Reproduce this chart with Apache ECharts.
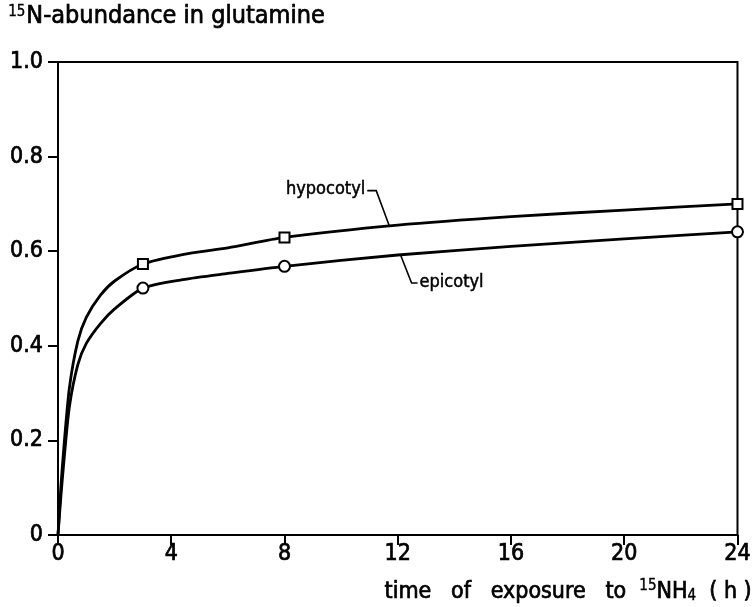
<!DOCTYPE html>
<html>
<head>
<meta charset="utf-8">
<script src="https://cdn.jsdelivr.net/npm/echarts@6/dist/echarts.min.js"></script>
<style>
html,body{margin:0;padding:0;background:#fff;}
#chart{width:754px;height:607px;}
</style>
</head>
<body>
<div id="chart"></div>
<script>
// ---- data ----
const curveHours = [0, 0.1, 0.2, 0.4, 0.7, 1.0, 1.5, 2.0, 3, 4.4, 6, 8, 12, 16, 20, 24];
const hypocotylCurve = [0, 0.10, 0.18, 0.31, 0.41, 0.46, 0.507, 0.537, 0.573, 0.593, 0.607, 0.629, 0.655, 0.673, 0.687, 0.700];
const epicotylCurve  = [0, 0.08, 0.15, 0.27, 0.36, 0.405, 0.447, 0.478, 0.522, 0.540, 0.553, 0.568, 0.592, 0.610, 0.626, 0.641];
const measuredHours = [3, 8, 24];
const hypocotylMeasured = [0.573, 0.629, 0.700];
const epicotylMeasured  = [0.522, 0.568, 0.641];
const xTicks = [0, 4, 8, 12, 16, 20, 24];
const yTickLabels = {0: '0', 0.2: '0.2', 0.4: '0.4', 0.6: '0.6', 0.8: '0.8', 1: '1.0'};
const seriesNames = ['hypocotyl', 'epicotyl'];
const yTitle = 'N-abundance in glutamine';
const xTitle = 'time   of   exposure   to  ';

const FONT = '"DejaVu Sans Condensed", "DejaVu Sans", sans-serif';
const zip = (xs, ys) => xs.map((x, i) => [x, ys[i]]);

const chart = echarts.init(document.getElementById('chart'));
const axisCommon = {
  axisLine: {show: true, lineStyle: {color: '#000', width: 2}},
  axisTick: {show: true, inside: false, length: 10, lineStyle: {color: '#000', width: 2}},
  splitLine: {show: false},
  axisLabel: {color: '#000', fontSize: 23, fontFamily: FONT, textBorderColor: '#000', textBorderWidth: 0.7}
};
const option = {
  backgroundColor: '#fff',
  animation: false,
  grid: {left: 58, right: 15, top: 62, bottom: 72, show: true, borderColor: '#000', borderWidth: 2, backgroundColor: 'transparent'},
  xAxis: Object.assign({}, axisCommon, {
    type: 'value', min: 0, max: 24, interval: 4,
    axisLabel: Object.assign({}, axisCommon.axisLabel, {margin: 8, formatter: v => xTicks.includes(v) ? String(v) : ''})
  }),
  yAxis: Object.assign({}, axisCommon, {
    type: 'value', min: 0, max: 1, interval: 0.2,
    axisLabel: Object.assign({}, axisCommon.axisLabel, {margin: 15, formatter: v => yTickLabels[Math.round(v * 10) / 10]})
  }),
  series: [
    {name: seriesNames[0] + ' curve', type: 'line', data: zip(curveHours, hypocotylCurve), smooth: 0.25, symbol: 'none', lineStyle: {color: '#000', width: 2.8}, z: 2},
    {name: seriesNames[1] + ' curve', type: 'line', data: zip(curveHours, epicotylCurve), smooth: 0.25, symbol: 'none', lineStyle: {color: '#000', width: 2.8}, z: 2},
    {name: seriesNames[0], type: 'scatter', data: zip(measuredHours, hypocotylMeasured), symbol: 'rect', symbolSize: 10, itemStyle: {color: '#fff', opacity: 1, borderColor: '#000', borderWidth: 2}, z: 5},
    {name: seriesNames[1], type: 'scatter', data: zip(measuredHours, epicotylMeasured), symbol: 'circle', symbolSize: 11, itemStyle: {color: '#fff', opacity: 1, borderColor: '#000', borderWidth: 2}, z: 5}
  ]
};
chart.setOption(option);

// annotations anchored to the curves through the chart's own scales
const hAnchor = chart.convertToPixel({gridIndex: 0}, [11.7, 0.654]);
const eAnchor = chart.convertToPixel({gridIndex: 0}, [12.1, 0.592]);
const ls = {stroke: '#000', lineWidth: 1.6, fill: null};
const txt = (size, lw, extra) => Object.assign({fontSize: size, fontFamily: FONT, fill: '#000', stroke: '#000', lineWidth: lw}, extra || {});
chart.setOption({
  graphic: [
    {type: 'text', left: 8, top: 4, style: {rich: {sup: txt(15, 0.4, {verticalAlign: 'top', padding: [0, 1, 10, 0]}), n: txt(25, 0.7)}, text: '{sup|15}{n|' + yTitle + '}'}},
    {type: 'text', right: 2, bottom: 3, style: {rich: {n: txt(23, 0.7), sup: txt(15, 0.4, {padding: [0, 0, 11, 0]}), sub: txt(15, 0.4, {padding: [9, 0, 0, 0]})}, text: '{n|' + xTitle + '}{sup|15}{n|NH}{sub|4}{n|  ( h )}'}},
    {type: 'polyline', shape: {points: [[hAnchor[0], hAnchor[1]], [hAnchor[0] - 13, hAnchor[1] - 35], [hAnchor[0] - 22, hAnchor[1] - 35]]}, style: ls, z: 10},
    {type: 'text', x: hAnchor[0] - 24, y: hAnchor[1] - 36, style: txt(18, 0.5, {text: seriesNames[0], align: 'right', verticalAlign: 'middle'}), z: 10},
    {type: 'polyline', shape: {points: [[eAnchor[0], eAnchor[1]], [eAnchor[0] + 11, eAnchor[1] + 28], [eAnchor[0] + 17, eAnchor[1] + 28]]}, style: ls, z: 10},
    {type: 'text', x: eAnchor[0] + 19, y: eAnchor[1] + 27, style: txt(18, 0.5, {text: seriesNames[1], align: 'left', verticalAlign: 'middle'}), z: 10}
  ]
});
</script>
</body>
</html>
